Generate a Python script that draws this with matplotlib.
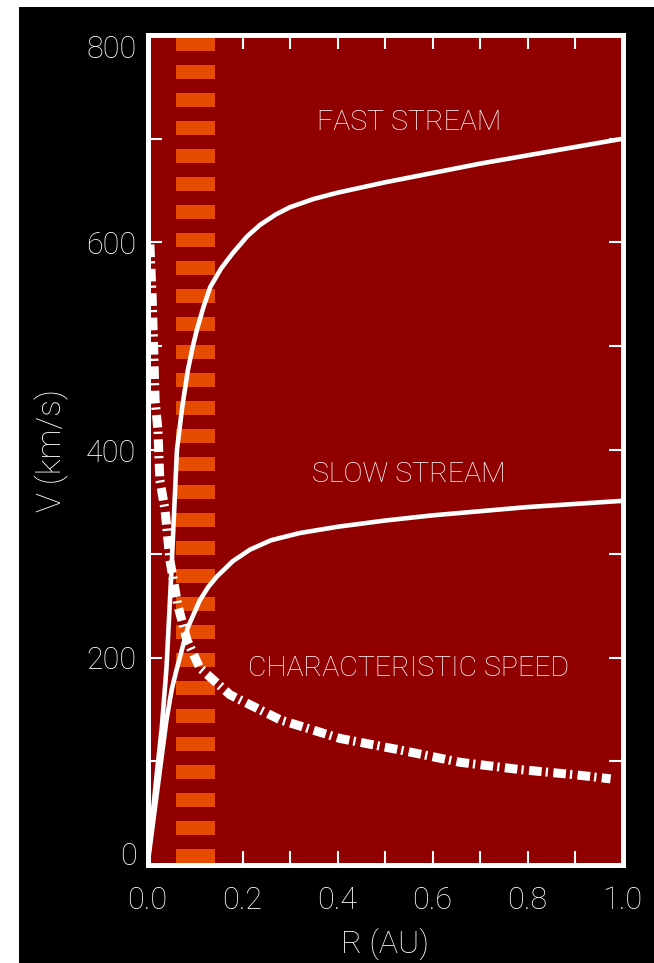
import matplotlib
matplotlib.use("Agg")
import matplotlib.pyplot as plt
from matplotlib.patches import Rectangle
import numpy as np

# solar wind speed profiles
r_fast = [0.0, 0.01, 0.02, 0.03, 0.04, 0.05, 0.056, 0.062, 0.073, 0.085, 0.095,
          0.104, 0.118, 0.132, 0.155, 0.18, 0.21, 0.237, 0.27, 0.3, 0.35, 0.4,
          0.5, 0.6, 0.7, 0.8, 0.9, 1.0]
v_fast = [0, 45, 90, 132, 190, 280, 340, 400, 441, 477, 499,
          516, 538, 557, 575, 590, 606, 617, 627, 634, 642, 648,
          658, 667, 676, 684, 692, 700]

r_slow = [0.0, 0.01, 0.02, 0.03, 0.04, 0.051, 0.06, 0.068, 0.085, 0.11, 0.128,
          0.146, 0.18, 0.216, 0.26, 0.321, 0.4, 0.5, 0.6, 0.7, 0.8, 0.9, 1.0]
v_slow = [0, 35, 70, 105, 140, 169, 186, 200, 229, 255, 268,
          278, 293, 304, 313, 320, 326, 332, 337, 341, 345, 348, 351]

r_char = [0.005, 0.01, 0.016, 0.022, 0.026, 0.037, 0.047, 0.064, 0.083, 0.11,
          0.174, 0.279, 0.405, 0.53, 0.658, 0.784, 0.9, 0.975]
v_char = [598, 545, 448, 419, 371, 342, 294, 250, 217, 190,
          164, 140, 122, 111, 99, 92, 87, 83]

band_r = (0.059, 0.143)   # shaded region near the sun

labels = ["FAST STREAM", "SLOW STREAM", "CHARACTERISTIC SPEED"]
label_xy = [(0.55, 716), (0.55, 376), (0.55, 189)]

RED = "#910000"
ORANGE = "#E64B00"
FONT = "Roboto"

fig = plt.figure(figsize=(6.54, 9.63), dpi=100, facecolor="white")
fig.patches.append(Rectangle((19 / 654, 0), 635 / 654, 956 / 963,
                             transform=fig.transFigure, facecolor="black",
                             edgecolor="none", zorder=-1))

ax = fig.add_axes([147.5 / 654, 98 / 963, 475 / 654, 830 / 963])
ax.set_facecolor(RED)
ax.set_xlim(0, 1)
ax.set_ylim(0, 800)
ax.set_axisbelow(True)

# dashed orange band
bottoms = 2 + 27 * np.arange(30)
ax.bar(np.mean(band_r), 13.5, width=band_r[1] - band_r[0], bottom=bottoms,
       color=ORANGE, linewidth=0, zorder=1)

ax.plot(r_fast, v_fast, color="white", lw=3.3, zorder=3,
        solid_capstyle="butt", solid_joinstyle="round")
ax.plot(r_slow, v_slow, color="white", lw=3.3, zorder=3,
        solid_capstyle="butt", solid_joinstyle="round")
ax.plot(r_char, v_char, color="white", lw=6.5, zorder=3,
        linestyle=(0, (1.4, 0.45, 0.25, 0.6)), dash_capstyle="butt")

for txt, (x, y) in zip(labels, label_xy):
    ax.text(x, y, txt, color="white", fontsize=20.5, family=FONT,
            fontweight="light", ha="center", va="center", zorder=4)

for s in ax.spines.values():
    s.set_color("white")
    s.set_linewidth(3.6)

ax.set_xticks(np.arange(0, 1.01, 0.2))
ax.set_xticklabels(["0.0", "0.2", "0.4", "0.6", "0.8", "1.0"])
ax.set_xticks(np.arange(0.1, 1.0, 0.2), minor=True)
ax.set_yticks(np.arange(0, 801, 200))
ax.set_yticks(np.arange(100, 800, 200), minor=True)
ax.tick_params(which="both", direction="in", colors="white", width=1.5,
               length=10, top=True, right=True)
ax.tick_params(axis="x", which="both", pad=15)
ax.tick_params(axis="y", which="both", pad=8)
for lbl in ax.get_xticklabels() + ax.get_yticklabels():
    lbl.set_family(FONT)
    lbl.set_fontweight("light")
    lbl.set_fontsize(22)
yt = ax.yaxis.get_major_ticks()
yt[0].label1.set_va("baseline")
yt[-1].label1.set_va("top")

ax.set_xlabel("R (AU)", color="white", fontsize=23, family=FONT,
              fontweight="light", labelpad=9)
ax.set_ylabel("V (km/s)", color="white", fontsize=24, family=FONT,
              fontweight="light", labelpad=12)

fig.savefig("out.png", dpi=100, facecolor="white")
